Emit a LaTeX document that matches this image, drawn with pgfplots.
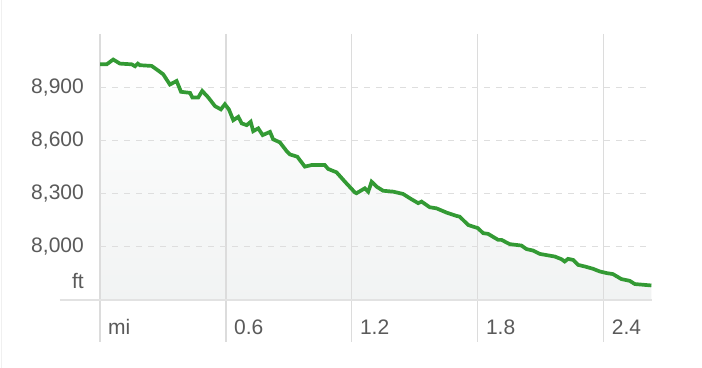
\documentclass[border=0pt]{standalone}
\usepackage{fontspec}
\setmainfont{Liberation Sans}
\usepackage{pgfplots}
\usepackage{pgfplotstable}
\pgfplotsset{compat=1.18}
\definecolor{linegreen}{HTML}{339A34}
\definecolor{txt}{HTML}{5A5A5A}
\definecolor{gridc}{HTML}{DCDCDC}
\definecolor{dashc}{HTML}{DEDEDE}
\definecolor{axc}{HTML}{E2E2E2}
\definecolor{fillbot}{HTML}{F1F3F3}

\pgfplotstableread{
x y
0.000 9029
0.032 9029
0.063 9056
0.095 9033
0.151 9029
0.167 9018
0.180 9033
0.190 9024
0.246 9020
0.270 9000
0.301 8973
0.333 8915
0.365 8935
0.386 8874
0.429 8868
0.440 8842
0.468 8842
0.487 8879
0.516 8842
0.548 8793
0.576 8775
0.595 8804
0.614 8775
0.635 8714
0.659 8733
0.675 8696
0.699 8686
0.718 8705
0.730 8652
0.754 8668
0.775 8630
0.810 8648
0.825 8606
0.857 8589
0.889 8540
0.905 8521
0.940 8508
0.976 8452
1.008 8461
1.071 8461
1.087 8439
1.127 8420
1.167 8367
1.214 8307
1.222 8302
1.262 8330
1.278 8311
1.294 8367
1.318 8339
1.349 8316
1.397 8311
1.444 8298
1.476 8274
1.516 8246
1.532 8255
1.571 8223
1.603 8217
1.651 8193
1.699 8174
1.714 8170
1.754 8123
1.801 8105
1.825 8077
1.849 8073
1.897 8039
1.913 8039
1.952 8015
2.008 8007
2.032 7987
2.063 7979
2.095 7960
2.119 7955
2.167 7945
2.199 7930
2.214 7917
2.230 7932
2.254 7926
2.278 7898
2.310 7889
2.349 7876
2.381 7861
2.413 7852
2.444 7846
2.484 7818
2.524 7808
2.548 7790
2.587 7786
2.627 7782
}\elev

\begin{document}
\begin{tikzpicture}
\path[use as bounding box] (0,0) rectangle (702bp,368bp);
\fill[white] (0,0) rectangle (702bp,368bp);
\draw[black!6, line width=1.2bp] (1.5bp,0) -- (1.5bp,368bp);
\begin{axis}[
  at={(100bp,68bp)}, anchor=south west,
  scale only axis, width=552bp, height=266bp,
  xmin=0, xmax=2.63, ymin=7700, ymax=9200,
  clip=false,
  axis line style={draw=none},
  major tick length=0pt,
  xtick={0,0.6,1.2,1.8,2.4},
  xticklabels={mi,0.6,1.2,1.8,2.4},
  ytick={7800,8000,8300,8600,8900},
  yticklabels={ft,{8,000},{8,300},{8,600},{8,900}},
  tick label style={font=\fontsize{21bp}{25bp}\selectfont, text=txt, inner sep=0pt},
  xticklabel style={anchor=base west, xshift=8bp, yshift=-34bp},
  yticklabel style={anchor=base east, xshift=-16bp, yshift=-6bp},
]
\addplot[draw=none, top color=white, bottom color=fillbot] table {\elev} \closedcycle;
\pgfplotsinvokeforeach{0,0.6,1.2,1.8,2.4}{
  \draw[gridc, line width=1.2bp] (axis cs:#1,9200) -- ([yshift=-42bp]axis cs:#1,7700);
}
\pgfplotsinvokeforeach{8000,8300,8600,8900}{
  \draw[dashc, line width=1.2bp, dash pattern=on 6bp off 6bp] (axis cs:0,#1) -- (axis cs:2.606,#1);
}
\draw[axc, line width=1.5bp] ([xshift=-40bp]axis cs:0,7700) -- (axis cs:2.63,7700);
\addplot[linegreen, line width=3.7bp] table {\elev};
\end{axis}
\end{tikzpicture}
\end{document}
